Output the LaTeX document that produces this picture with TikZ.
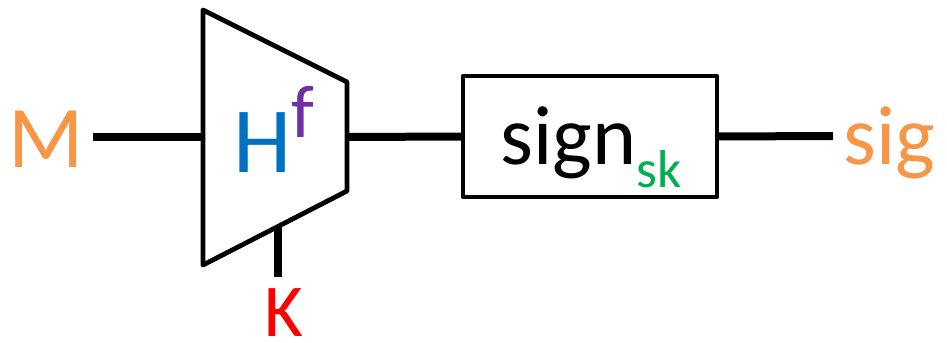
\documentclass[tikz,border=0pt]{standalone}
\usepackage{fontspec}
\setmainfont{Carlito}
\definecolor{msgorange}{HTML}{F79646}
\definecolor{hashblue}{HTML}{0070C0}
\definecolor{funcpurple}{HTML}{7030A0}
\definecolor{keyred}{HTML}{FF0000}
\definecolor{skgreen}{HTML}{00B050}
\begin{document}
\begin{tikzpicture}[x=0.75pt,y=-0.75pt,
  outline/.style={line width=3.6pt, line join=round},
  wire/.style={line width=6pt},
  lbl/.style={inner sep=0pt, outer sep=0pt, anchor=base}]
\useasboundingbox (0,0) rectangle (947,343);

% keyed hash block drawn as a trapezoid
\coordinate (tl) at (203,10);
\coordinate (tr) at (347,82);
\coordinate (br) at (347,191);
\coordinate (bl) at (203,265);
\draw[outline] (tl) -- (tr) -- (br) -- (bl) -- cycle;
\coordinate (hin)  at (203,137);
\coordinate (hout) at (347,137);
\coordinate (kin)  at (278,226.5);

% signing block
\node[draw, outline, minimum width=190.5pt, minimum height=90.75pt,
      inner sep=0pt, outer sep=0pt] (signbox) at (590,136.5) {};

% labels
\node[lbl, text=msgorange] (msg) at (46,167) {\fontsize{66}{66}\selectfont M};
\node[lbl] (hash) at (274,172) {\fontsize{70}{70}\selectfont
  {\color{hashblue}H}\raisebox{26.25pt}{\fontsize{56}{56}\selectfont\color{funcpurple}f}};
\node[lbl] (sign) at (591,164) {\fontsize{63}{63}\selectfont
  sign\raisebox{-17.25pt}{\fontsize{40}{40}\selectfont\color{skgreen}sk}};
\node[lbl, text=msgorange] (sig) at (889,164) {\fontsize{63}{63}\selectfont sig};
\node[lbl, text=keyred] (key) at (284,336) {\fontsize{56}{56}\selectfont K};

% wire ends
\coordinate (min)   at (93,137);
\coordinate (sigin) at (833,136);
\coordinate (kout)  at (278,277);

% connectors
\draw[wire] (min) -- (hin);
\draw[wire] (hout) -- (signbox.west);
\draw[wire] (signbox.east) -- (sigin);
\draw[wire] (kin) -- (kout);
\end{tikzpicture}
\end{document}
